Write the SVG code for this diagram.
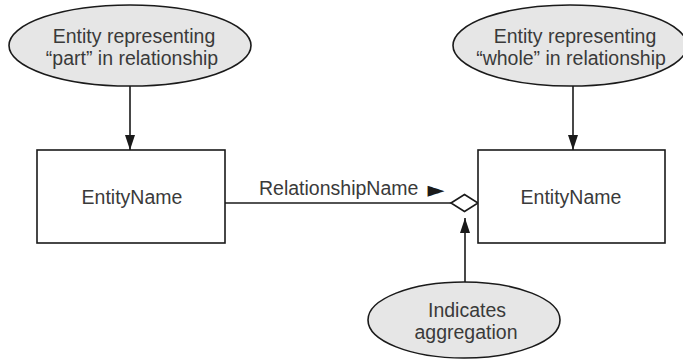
<svg xmlns="http://www.w3.org/2000/svg" width="683" height="362" viewBox="0 0 683 362">
<style>
.note{fill:#e6e6e6;stroke:#1a1a1a;stroke-width:1.6}
.ent{fill:#ffffff;stroke:#1a1a1a;stroke-width:1.6}
.t{font-family:"Liberation Sans",Arial,sans-serif;font-size:19.5px;fill:#3a3a3a;text-anchor:middle}
.c{stroke:#1a1a1a;stroke-width:1.6;fill:none}
</style>
<defs>
<marker id="ah" markerUnits="userSpaceOnUse" markerWidth="16" markerHeight="12" refX="15" refY="5" orient="auto">
<path d="M0,0 L15,5 L0,10 z" fill="#1a1a1a"/>
</marker>
</defs>
<rect width="683" height="362" fill="#ffffff"/>
<g id="connectors">
<line class="c" x1="130" y1="86" x2="130" y2="150" marker-end="url(#ah)"/>
<line class="c" x1="573" y1="86" x2="573" y2="150" marker-end="url(#ah)"/>
<line class="c" x1="225" y1="203" x2="451" y2="203"/>
<polygon class="c" points="451,203 464.5,194.5 478,203 464.5,211.5" fill="#ffffff"/>
<line class="c" x1="465" y1="282" x2="465" y2="218" marker-end="url(#ah)"/>
<text class="t" x="259" y="195" style="text-anchor:start">RelationshipName <tspan x="427.5" y="197" style="font-family:'DejaVu Sans',sans-serif;font-size:22px;fill:#1a1a1a">►</tspan></text>
</g>
<g id="part-note">
<ellipse class="note" cx="130" cy="45.5" rx="121" ry="40.5"/>
<text class="t" x="134" y="43">Entity representing</text>
<text class="t" x="132" y="65">“part” in relationship</text>
</g>
<g id="whole-note">
<ellipse class="note" cx="570" cy="45.5" rx="117" ry="40.5"/>
<text class="t" x="575" y="43">Entity representing</text>
<text class="t" x="571" y="65">“whole” in relationship</text>
</g>
<g id="part-entity">
<rect class="ent" x="37" y="150" width="188" height="93"/>
<text class="t" x="132" y="204">EntityName</text>
</g>
<g id="whole-entity">
<rect class="ent" x="478" y="150" width="187" height="93"/>
<text class="t" x="571" y="204">EntityName</text>
</g>
<g id="aggregation-note">
<ellipse class="note" cx="464" cy="320" rx="96" ry="38"/>
<text class="t" x="467" y="317">Indicates</text>
<text class="t" x="466" y="339">aggregation</text>
</g>
</svg>
